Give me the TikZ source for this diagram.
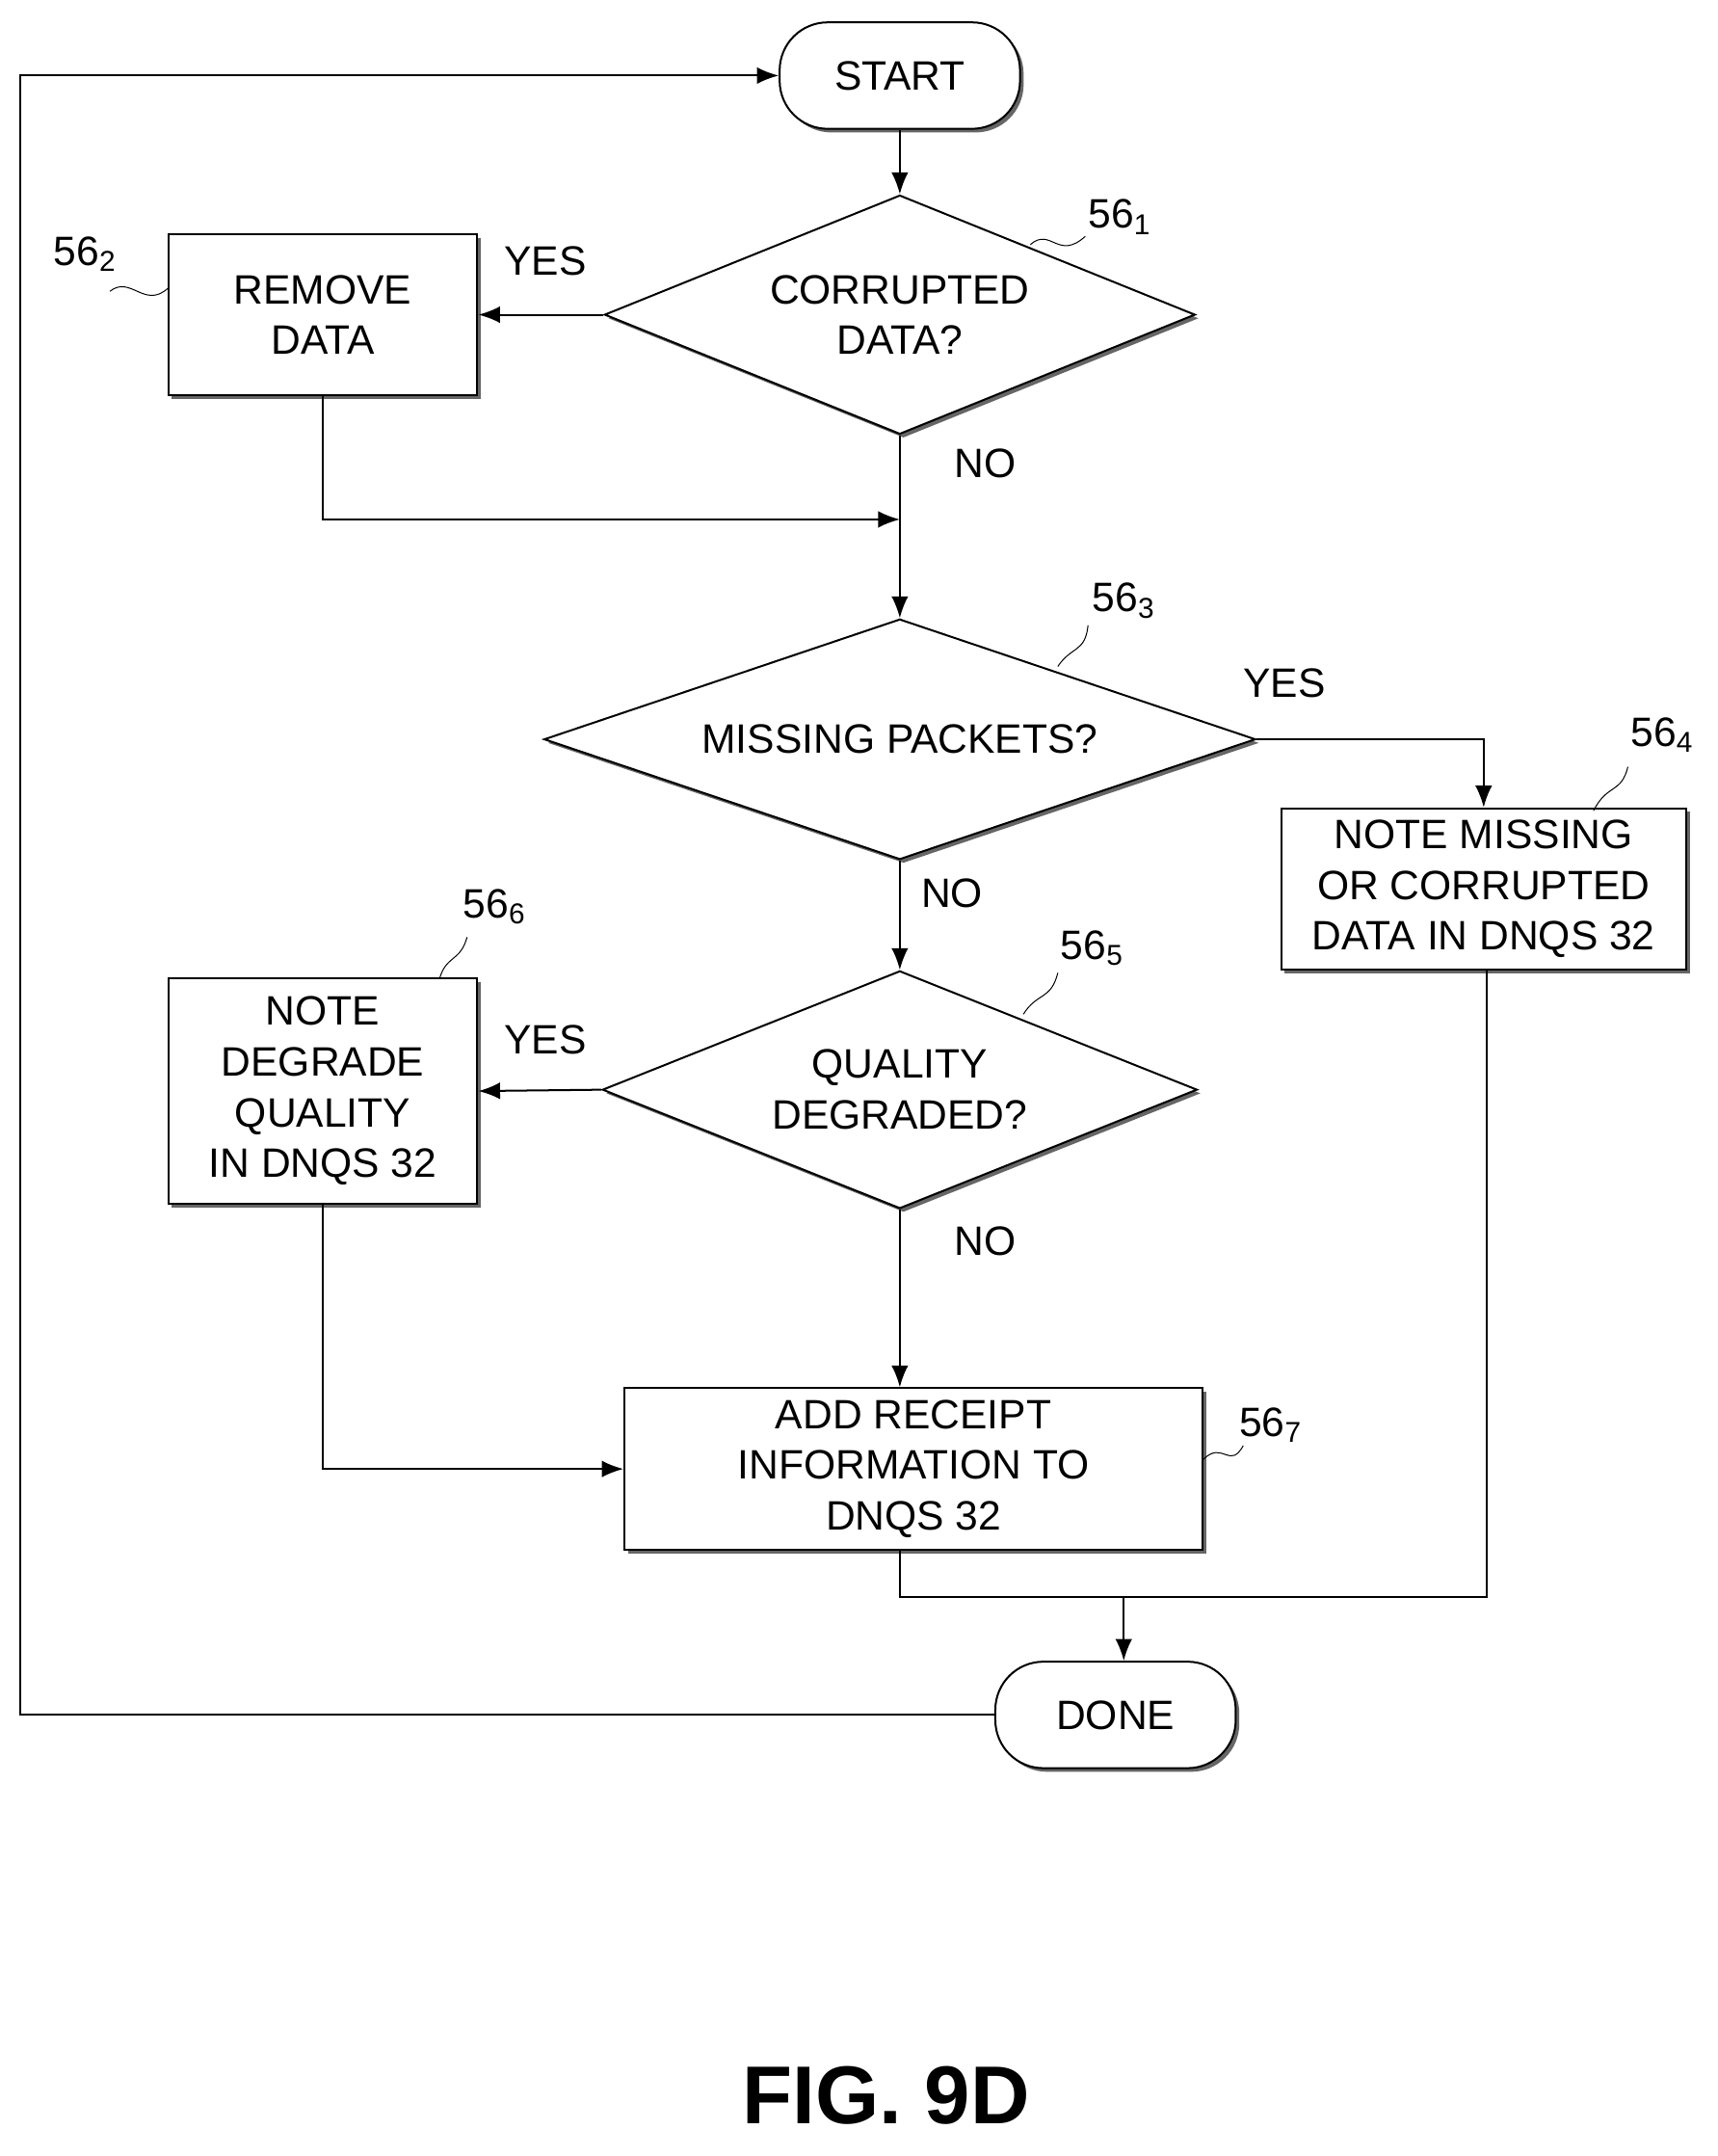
\documentclass[tikz,border=0pt]{standalone}
\usepackage{fontspec}
\setmainfont{Liberation Sans}
\usetikzlibrary{shapes.geometric, arrows.meta, shadows}
\tikzset{
    base/.style={draw=black, thick, fill=white, align=center, inner sep=2pt,
        font=\fontsize{17}{21}\selectfont,
        drop shadow={shadow xshift=1.5pt, shadow yshift=-1.5pt, fill=black!60, opacity=1}},
    term/.style={base, rounded corners=0.7cm, minimum width=3.5cm, minimum height=1.55cm},
    box/.style={base, rectangle, minimum width=4.5cm, minimum height=2.35cm},
    decision/.style={base, diamond, inner sep=0pt},
    arrow/.style={-{Latex[length=9pt,width=7pt]}, thick},
    line/.style={thick},
    tag/.style={font=\fontsize{17}{20}\selectfont},
    ref/.style={font=\fontsize{17}{20}\selectfont}
}
\newcommand{\refnum}[1]{56\textsubscript{#1}}
\begin{document}
\begin{tikzpicture}[x=0.02cm, y=-0.02cm]
    \useasboundingbox (0,0) rectangle (1250,1569);

    % Terminals
    \node[term] (start) at (655,55) {START};
    \node[term] (done) at (812,1248) {DONE};

    % Decisions
    \node[decision, aspect=2.47, minimum width=8.6cm, minimum height=3.48cm] (corrupt) at (655,229) {CORRUPTED\\DATA?};
    \node[decision, aspect=2.96, minimum width=10.36cm, minimum height=3.5cm] (missing) at (655,538) {MISSING PACKETS?};
    \node[decision, aspect=2.5, minimum width=8.66cm, minimum height=3.46cm] (quality) at (655,793) {QUALITY\\DEGRADED?};

    % Processes
    \node[box] (remove) at (235,229) {REMOVE\\DATA};
    \node[box, minimum width=5.9cm] (notemiss) at (1080,647) {NOTE MISSING\\OR CORRUPTED\\DATA IN DNQS 32};
    \node[box, minimum height=3.28cm] (notedeg) at (235,794) {NOTE\\DEGRADE\\QUALITY\\IN DNQS 32};
    \node[box, minimum width=8.42cm] (receipt) at (665,1069) {ADD RECEIPT\\INFORMATION TO\\DNQS 32};

    \coordinate (join1) at (655,378);
    \coordinate (join2) at (818,1162);

    % Connectors
    \draw[arrow] (start) -- (corrupt);
    \draw[arrow] (corrupt) -- (remove);
    \draw[line] (corrupt.south) -- (join1);
    \draw[arrow] (remove.south) |- (join1);
    \draw[arrow] (join1) -- (missing.north);
    \draw[arrow] (missing.east) -| (notemiss.north);
    \draw[arrow] (missing.south) -- (quality.north);
    \draw[arrow] (quality.west) -- (notedeg.east);
    \draw[arrow] (quality.south) -- (receipt.north -| quality.south);
    \draw[arrow] (notedeg.south) |- (receipt.west);
    \draw[line] (receipt.south -| quality.south) |- (join2);
    \draw[line] (notemiss.south -| 1082,0) |- (join2);
    \draw[arrow] (join2) -- (done.north -| join2);
    \draw[arrow] (done.west) -- (15,1248) |- (start.west);

    % Branch labels
    \node[tag] at (397,190) {YES};
    \node[tag] at (717,337) {NO};
    \node[tag] at (935,497) {YES};
    \node[tag] at (693,650) {NO};
    \node[tag] at (397,757) {YES};
    \node[tag] at (717,903) {NO};

    % Reference numerals
    \node[ref] (r1) at (815,158) {\refnum{1}};
    \node[ref] (r2) at (62,185) {\refnum{2}};
    \node[ref] (r3) at (818,437) {\refnum{3}};
    \node[ref] (r4) at (1210,535) {\refnum{4}};
    \node[ref] (r5) at (795,690) {\refnum{5}};
    \node[ref] (r6) at (360,660) {\refnum{6}};
    \node[ref] (r7) at (925,1037) {\refnum{7}};
    \draw (750,178) .. controls (765,165) and (770,190) .. (790,172);
    \draw (80,212) .. controls (95,200) and (105,225) .. (122,210);
    \draw (770,485) .. controls (780,470) and (790,475) .. (792,455);
    \draw (1160,590) .. controls (1170,570) and (1180,578) .. (1185,558);
    \draw (745,738) .. controls (755,722) and (765,728) .. (770,708);
    \draw (320,712) .. controls (325,695) and (335,700) .. (340,682);
    \draw (876,1062) .. controls (890,1048) and (895,1070) .. (905,1052);

    \node[font=\bfseries\fontsize{34}{40}\selectfont] (fig) at (645,1525) {FIG. 9D};
\end{tikzpicture}
\end{document}
